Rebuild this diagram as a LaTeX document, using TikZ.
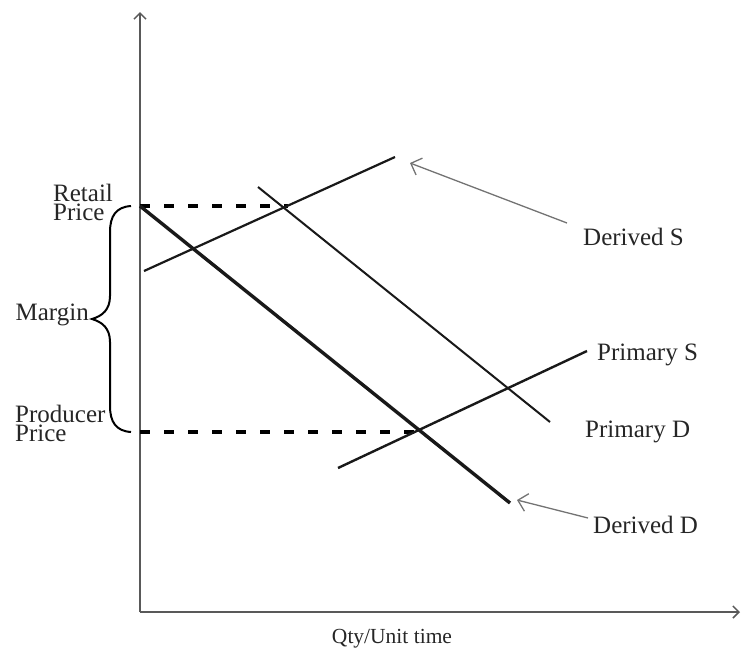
\documentclass[tikz,border=0pt]{standalone}
\usepackage{fontspec}
\setmainfont{Liberation Serif}
\usetikzlibrary{arrows.meta}
\begin{document}
\begin{tikzpicture}[x=1pt,y=-1pt,
  lbl/.style={font=\fontsize{25}{25}\selectfont, inner sep=0pt, text=black!85},
  stack/.style={font=\fontsize{25}{19}\selectfont, inner sep=0pt, text=black!85, align=left},
  axisline/.style={draw=black!65, line width=1.5pt, -{Straight Barb[length=6pt,width=12pt]}},
  curve/.style={draw=black!90},
  dashedlvl/.style={draw=black, line width=3.2pt, dash pattern=on 10pt off 14pt},
  pointer/.style={draw=black!55, line width=1.3pt, -{Straight Barb[length=9pt,width=18pt]}}]
\useasboundingbox (0,0) rectangle (741,651);
% axes
\coordinate (O) at (140,612);
\coordinate (ytop) at (140,12);
\coordinate (xend) at (740,612);
\draw[axisline] (O) -- (ytop);
\draw[axisline] (O) -- (xend);
% price levels
\coordinate (rp) at (140,206);
\coordinate (rpend) at (288,206);
\coordinate (pp) at (140,432);
\coordinate (ppend) at (416,432);
\draw[dashedlvl] (rp) -- (rpend);
\draw[dashedlvl] (pp) -- (ppend);
% curves
\coordinate (dd1) at (140,206);
\coordinate (dd2) at (510,503);
\draw[curve, line width=3.4pt] (dd1) -- (dd2);
\coordinate (ds1) at (144,271);
\coordinate (ds2) at (395,157);
\draw[curve, line width=2.2pt] (ds1) -- (ds2);
\coordinate (pd1) at (258,187);
\coordinate (pd2) at (550,422);
\draw[curve, line width=2pt] (pd1) -- (pd2);
\coordinate (ps1) at (338,468);
\coordinate (ps2) at (587,351);
\draw[curve, line width=2.4pt] (ps1) -- (ps2);
% labels
\node[lbl, anchor=base west] (lDS) at (583,245) {Derived S};
\node[lbl, anchor=base west] (lPS) at (597,360) {Primary S};
\node[lbl, anchor=base west] (lPD) at (585,437) {Primary D};
\node[lbl, anchor=base west] (lDD) at (593,533) {Derived D};
\node[stack, anchor=north west] (lR) at (53,184) {Retail\\Price};
\node[stack, anchor=north west] (lP) at (15,405) {Producer\\Price};
\node[lbl, anchor=base east] (lM) at (89,320) {Margin};
\node[lbl, font=\fontsize{21.5}{22}\selectfont, anchor=base] (lQ) at (392,643) {Qty/Unit time};
% pointers
\coordinate (a1t) at (567,223);
\coordinate (a1h) at (410,163);
\draw[pointer] (a1t) -- (a1h);
\coordinate (a2t) at (588,518);
\coordinate (a2h) at (517,500);
\draw[pointer] (a2t) -- (a2h);
% brace
\coordinate (bt) at (131,206);
\coordinate (bb) at (131,432);
\coordinate (btip) at (92,319);
\draw[black, line width=2pt]
  (bt) .. controls (116,207) and (110,216) .. (110,232)
  -- (110,296) .. controls (110,310) and (102,316) .. (btip)
  .. controls (102,322) and (110,328) .. (110,342)
  -- (110,406) .. controls (110,422) and (116,431) .. (bb);
\end{tikzpicture}
\end{document}
